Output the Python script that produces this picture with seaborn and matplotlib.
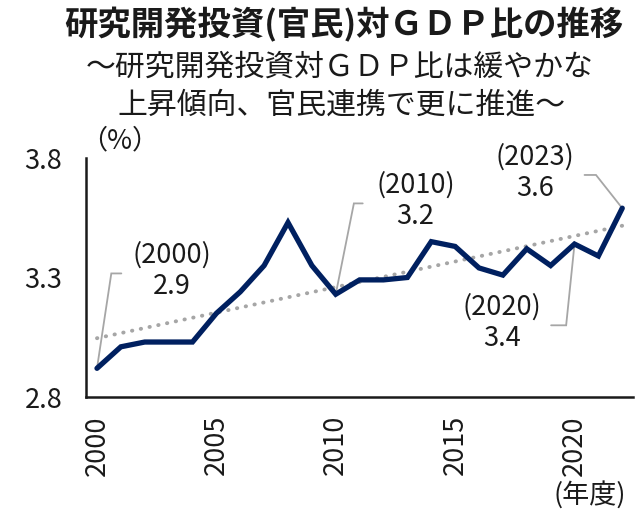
import numpy as np
import pandas as pd
import matplotlib
matplotlib.use("Agg")
import matplotlib.pyplot as plt
import seaborn as sns

# Data (R&D investment / GDP, %)
years = list(range(2000, 2023))
ratio = [2.92, 3.01, 3.03, 3.03, 3.03, 3.15, 3.24, 3.35, 3.53, 3.35,
         3.23, 3.29, 3.29, 3.30, 3.45, 3.43, 3.34, 3.31, 3.42, 3.35,
         3.44, 3.39, 3.59]

# callouts: (year of point, label text)
callout_years = [2000, 2010, 2020, 2022]
callout_texts = ["(2000)\n2.9", "(2010)\n3.2", "(2020)\n3.4", "(2023)\n3.6"]
# layout of callouts in data units: elbow dx, elbow y, end dx, text dx, text y
callout_layout = [
    (0.6, 3.317, 1.02, 3.15, 3.327),
    (0.76, 3.610, 1.13, 3.34, 3.62),
    (-0.35, 3.100, -0.98, -3.03, 3.109),
    (-1.1, 3.729, -1.58, -3.64, 3.739),
]

x_ticks = [2000, 2005, 2010, 2015, 2020]
y_ticks = [2.8, 3.3, 3.8]

TITLE = "研究開発投資(官民)対ＧＤＰ比の推移"
SUB1 = "～研究開発投資対ＧＤＰ比は緩やかな"
SUB2 = "上昇傾向、官民連携で更に推進～"

NAVY = "#002060"
GREY = "#a6a6a6"


def main():
    sns.set_theme(style="white")
    plt.rcParams["font.family"] = ["Noto Sans CJK JP", "DejaVu Sans"]

    df = pd.DataFrame({"year": years, "ratio": ratio})

    fig = plt.figure(figsize=(6.44, 5.11), dpi=100)
    ax = fig.add_axes([86 / 644, 1 - 397 / 511, (633 - 86) / 644, (397 - 158) / 511])

    # trend line (linear fit of the series)
    coef = np.polyfit(df["year"], df["ratio"], 1)
    trend = np.polyval(coef, df["year"])
    ax.plot(df["year"], trend, color=GREY, lw=2.8, linestyle=(0, (0.1, 2.2)),
            dash_capstyle="round", zorder=2)

    sns.lineplot(data=df, x="year", y="ratio", ax=ax, color=NAVY, lw=3.8,
                 zorder=3)
    ax.lines[-1].set_solid_joinstyle("miter")

    ax.set_xlim(1999.54, 2022.45)
    ax.set_ylim(2.8, 3.8)
    ax.set_xticks(x_ticks)
    ax.set_xticklabels([str(t) for t in x_ticks], rotation=90, fontsize=19.5)
    ax.set_yticks(y_ticks)
    ax.set_yticklabels([f"{t:.1f}" for t in y_ticks], fontsize=19.5)
    ax.tick_params(axis="both", length=0, colors="#1a1a1a")
    ax.tick_params(axis="y", pad=17)
    ax.tick_params(axis="x", pad=13)
    ax.set_xlabel("")
    ax.set_ylabel("")
    for side in ["top", "right"]:
        ax.spines[side].set_visible(False)
    for side in ["left", "bottom"]:
        ax.spines[side].set_color("#1a1a1a")
        ax.spines[side].set_linewidth(1.8)

    # callouts with leader lines
    for yr, txt, (edx, ey, endx, tdx, ty) in zip(callout_years, callout_texts,
                                                 callout_layout):
        val = ratio[years.index(yr)]
        ax.plot([yr, yr + edx, yr + endx], [val, ey, ey], color=GREY, lw=1.3,
                zorder=1, clip_on=False, solid_joinstyle="miter")
        ax.text(yr + tdx, ty, txt, ha="center", va="center", fontsize=19.5,
                linespacing=1.2, color="#1a1a1a", clip_on=False)

    fig.text(120 / 644, 1 - 141 / 511, "（%）", ha="center", va="center",
             fontsize=19.5, color="#1a1a1a")
    fig.text(590 / 644, 1 - 495 / 511, "(年度)", ha="center", va="center",
             fontsize=19.5, color="#1a1a1a")

    fig.text(344 / 644, 1 - 25 / 511, TITLE, ha="center", va="center",
             fontsize=24, fontweight="bold", color="#1a1a1a")
    fig.text(340 / 644, 1 - 67 / 511, SUB1, ha="center", va="center",
             fontsize=21.5, color="#1a1a1a")
    fig.text(342 / 644, 1 - 105 / 511, SUB2, ha="center", va="center",
             fontsize=21.5, color="#1a1a1a")

    fig.savefig("out.png", dpi=100)


if __name__ == "__main__":
    main()
